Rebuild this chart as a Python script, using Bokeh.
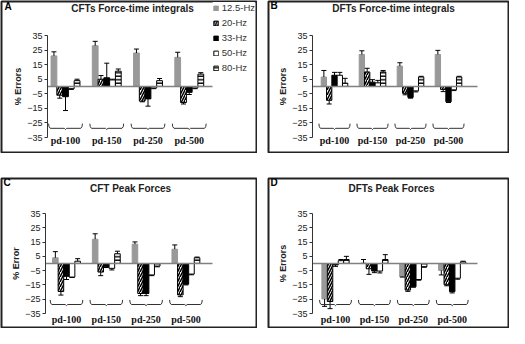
from bokeh.plotting import figure
from bokeh.models import Range1d, FixedTicker, Legend, LegendItem, Label
from bokeh.layouts import row, column
from bokeh.core.properties import value
from bokeh.embed import file_html
from bokeh.resources import INLINE

# ---------------- data ----------------
groups = ["pd-100", "pd-150", "pd-250", "pd-500"]
freqs = ["12.5-Hz", "20-Hz", "33-Hz", "50-Hz", "80-Hz"]
y_ticks = [-35, -25, -15, -5, 5, 15, 25, 35]

# A: CFTs force-time integrals (% error, mean and error bar)
a_vals = [[21, 28, 23, 20],
          [-6, 5, -10, -11],
          [-7, 6, -8.5, -4],
          [-1.5, 4.5, -1, -1],
          [4, 10.5, 4, 8.5]]
a_errs = [[2.8, 3, 2.7, 3.5],
          [2, 2.5, 0.5, 1],
          [9.5, 10, 5, 1.5],
          [0.5, 0.5, 0.5, 0.5],
          [1, 1.5, 1.5, 1]]

# B: DFTs force-time integrals
b_vals = [[6.5, 22, 14, 22],
          [-9.5, 10, -4.7, -2],
          [7.7, 3, -7.5, -10.5],
          [7.7, 2.5, -3, -2.3],
          [2.3, 10, 6.5, 6.5]]
b_errs = [[4.5, 2.5, 2.3, 2.8],
          [2.5, 2.5, 1, 1.5],
          [2, 1.7, 0.5, 0.5],
          [2, 1.7, 0.7, 0.5],
          [3.3, 1, 0.5, 0.5]]

# C: CFT peak forces
c_vals = [[4, 17, 13.5, 10],
          [-19.6, -6, -21, -22],
          [-9, -2.3, -21, -14.5],
          [-9.5, -3.4, -8, -7.4],
          [1.6, 6.8, -1.8, 4]]
c_errs = [[4.3, 3.8, 1.6, 3],
          [2.5, 2.5, 1.5, 1.2],
          [2.2, 0.5, 1.5, 0.5],
          [0.3, 1.1, 0.5, 0.5],
          [1.8, 1.8, 0.5, 0.5]]

# D: DFTs peak forces
d_vals = [[-24.8, 0.3, -9.2, -4.8],
          [-26.6, -3.7, -18.6, -14.9],
          [-1, -5.3, -16.3, -19.7],
          [2, -5.3, -11.2, -10.3],
          [2.8, 2.8, -2.3, 1.1]]
d_errs = [[5.2, 2.5, 0.3, 3.2],
          [5, 3.9, 0.9, 0.7],
          [1, 1.1, 0.3, 0.9],
          [0.8, 1.3, 0.5, 0.7],
          [2.2, 3.4, 0.3, 0.5]]

# ---------------- styles ----------------
SANS = "Liberation Sans"
SERIF = "Liberation Serif"
BAR_W = 0.14
bar_styles = [
    dict(fill_color="#999999", line_color="#999999"),
    dict(fill_color="white", line_color="black", hatch_pattern="/", hatch_color="black",
         hatch_scale=5, hatch_weight=1.5),
    dict(fill_color="black", line_color="black"),
    dict(fill_color="white", line_color="black"),
    dict(fill_color="white", line_color="black", hatch_pattern="-", hatch_color="black",
         hatch_scale=3.5, hatch_weight=1.4),
]


def make_panel(letter, title, ylabel, vals, errs, W, H, lay, legend=False):
    # lay: pixel layout of the panel (canvas pixels)
    sx = lay["step"]
    c0 = lay["c0"]
    sy = (lay["ym35"] - lay["y35"]) / 70.0
    y0 = lay["y35"] + 35 * sy

    def xd(px):
        return (px - c0) / sx

    def yd(py):
        return (y0 - py) / sy

    p = figure(width=W, height=H, x_range=Range1d(xd(1), xd(W - 1)),
               y_range=Range1d(yd(H - 1), yd(1)),
               x_axis_type=None, toolbar_location=None, output_backend="svg",
               min_border_left=1, min_border_right=1, min_border_top=1, min_border_bottom=1)
    p.title = None
    p.outline_line_color = "#222222"
    p.outline_line_width = 2
    p.grid.visible = False
    p.background_fill_color = "white"
    p.border_fill_color = "white"

    ax = p.yaxis[0]
    ax.fixed_location = xd(lay["axis"])
    ax.ticker = FixedTicker(ticks=y_ticks)
    ax.bounds = (-35, 35)
    ax.major_tick_in = 0
    ax.major_tick_out = 3
    ax.minor_tick_line_color = None
    ax.axis_line_color = "#333333"
    ax.major_tick_line_color = "#333333"
    ax.major_label_standoff = 2
    ax.major_label_text_font = SANS
    ax.major_label_text_font_size = "9px"
    ax.major_label_text_color = "#222222"
    ax.axis_label = ylabel
    ax.axis_label_text_font = SANS
    ax.axis_label_text_font_size = "9px"
    ax.axis_label_text_font_style = "bold"
    ax.axis_label_text_color = "#222222"
    ax.axis_label_standoff = 1

    renderers = []
    for i, f in enumerate(freqs):
        xs = [g + (i - 2) * BAR_W for g in range(len(groups))]
        r = p.vbar(x=xs, top=vals[i], bottom=0, width=BAR_W, line_width=1, **bar_styles[i])
        renderers.append(r)
        ends = [v + (e if v >= 0 else -e) for v, e in zip(vals[i], errs[i])]
        p.segment(x0=xs, y0=vals[i], x1=xs, y1=ends, line_color="black", line_width=1)
        p.scatter(x=xs, y=ends, marker="dash", size=5, line_color="black", line_width=1)

    # zero line from the axis to the right end of the plotting area
    p.segment(x0=[xd(lay["axis"])], y0=[0], x1=[xd(lay["zend"])], y1=[0],
              line_color="#808080", line_width=1.5)

    # group braces
    bx = [-0.41, -0.40, -0.37, -0.03, 0.0, 0.03, 0.37, 0.40, 0.41]
    byy = [-25.5, -27.6, -28.7, -28.7, -29.5, -28.7, -28.7, -27.6, -25.5]
    p.multi_line(xs=[[g + d for d in bx] for g in range(len(groups))],
                 ys=[byy for _ in groups], line_color="#333333", line_width=1)

    p.text(x=list(range(len(groups))), y=[yd(lay["lab"])] * len(groups), text=groups,
           text_font=value(SERIF), text_font_style="bold", text_font_size="10px",
           text_align="center", text_baseline="middle", text_color="#111111")

    p.add_layout(Label(x=xd(lay["tx"]), y=yd(lay["ty"]), text=title, text_font=SANS,
                       text_font_style="bold", text_font_size="10px", text_align="center",
                       text_baseline="middle", text_color="#222222"))
    p.add_layout(Label(x=xd(lay["lx"]), y=yd(lay["ly"]), text=letter, text_font=SANS,
                       text_font_style="bold", text_font_size="10px", text_align="left",
                       text_baseline="middle", text_color="black"))

    if legend:
        items = [LegendItem(label=f, renderers=[r]) for f, r in zip(freqs, renderers)]
        lg = Legend(items=items, location="top_right", orientation="vertical",
                    glyph_width=6, glyph_height=6, label_height=11,
                    spacing=4, padding=1, margin=1, label_standoff=3,
                    label_text_font=SANS, label_text_font_size="9.5px",
                    label_text_color="#333333", border_line_color=None,
                    background_fill_color="white", background_fill_alpha=1)
        p.add_layout(lg, "center")
    return p


lay_a = dict(axis=47, c0=65, step=41.25, zend=212, y35=35, ym35=137, lab=140,
             tx=132, ty=8, lx=4, ly=6)
lay_b = dict(axis=45, c0=67, step=38, zend=210, y35=35, ym35=137, lab=140,
             tx=126, ty=8, lx=3, ly=5)
lay_c = dict(axis=45, c0=66, step=39.8, zend=212, y35=36, ym35=136, lab=142,
             tx=130, ty=11, lx=3, ly=5)
lay_d = dict(axis=45, c0=68, step=38.9, zend=210, y35=36, ym35=136, lab=142,
             tx=124, ty=11, lx=3, ly=5)

pA = make_panel("A", "CFTs Force-time integrals", "% Errors", a_vals, a_errs, 257, 153, lay_a,
                legend=True)
pB = make_panel("B", "DFTs Force-time integrals", "% Errors", b_vals, b_errs, 242, 153, lay_b)
pC = make_panel("C", "CFT Peak Forces", "% Error", c_vals, c_errs, 257, 151, lay_c)
pD = make_panel("D", "DFTs Peak Forces", "% Errors", d_vals, d_errs, 242, 151, lay_d)

layout = column(row(pA, pB, spacing=10), row(pC, pD, spacing=10), spacing=24)

open("out.html", "w").write(file_html(layout, INLINE))
